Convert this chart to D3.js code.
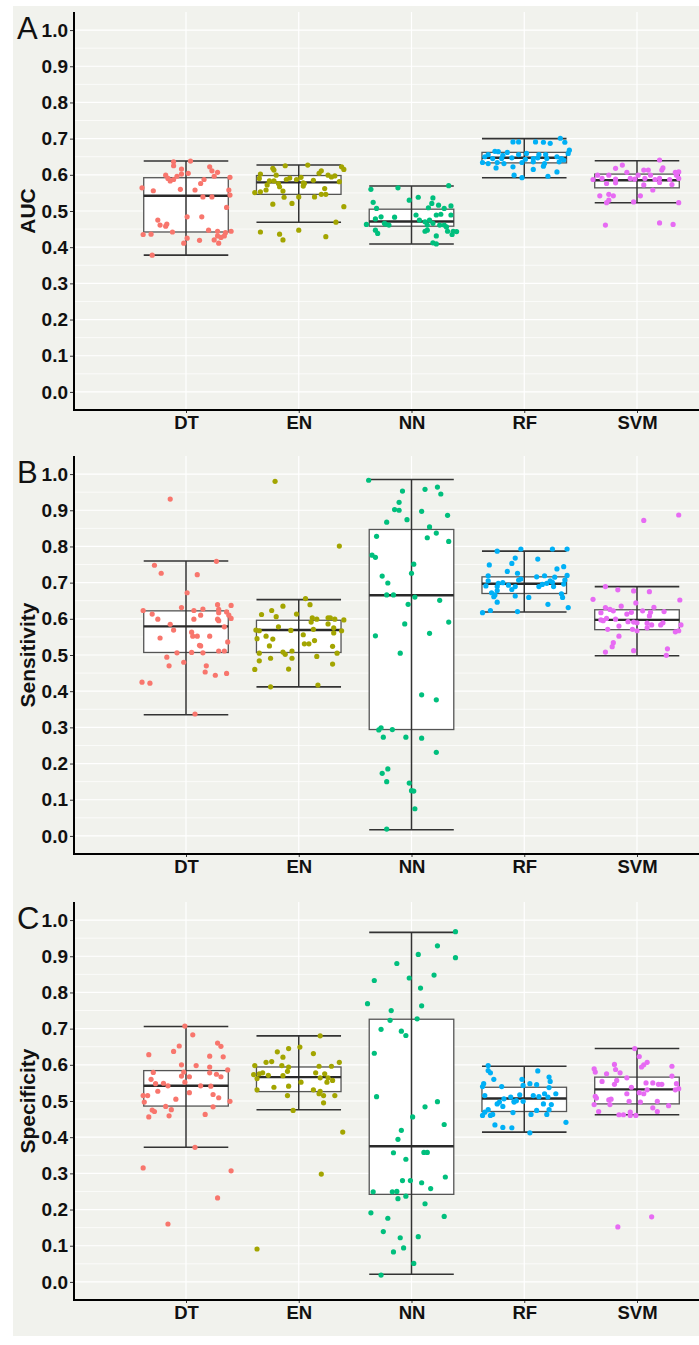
<!DOCTYPE html>
<html>
<head>
<meta charset="utf-8">
<script src="https://cdn.jsdelivr.net/npm/d3@7"></script>
<style>
  body { margin: 0; background: #fff; }
  svg { display: block; }
</style>
</head>
<body>
<div id="chart"></div>
<script>
// ---- data ----
const models = ["DT", "EN", "NN", "RF", "SVM"];
const modelColors = ["#F8766D", "#A3A500", "#00BF7D", "#00B0F6", "#E76BF3"];
const yTicks = [0, 0.1, 0.2, 0.3, 0.4, 0.5, 0.6, 0.7, 0.8, 0.9, 1.0];

// box stats per model: [lower whisker, Q1, median, Q3, upper whisker]
const aucStats = [
  [0.378, 0.442, 0.542, 0.592, 0.638],
  [0.469, 0.546, 0.579, 0.598, 0.627],
  [0.409, 0.458, 0.471, 0.505, 0.569],
  [0.592, 0.633, 0.647, 0.662, 0.700],
  [0.523, 0.564, 0.585, 0.602, 0.639]
];
const sensStats = [
  [0.335, 0.507, 0.579, 0.622, 0.760],
  [0.412, 0.507, 0.569, 0.596, 0.653],
  [0.017, 0.294, 0.665, 0.847, 0.985],
  [0.619, 0.670, 0.697, 0.716, 0.787],
  [0.498, 0.570, 0.597, 0.625, 0.689]
];
const specStats = [
  [0.372, 0.486, 0.542, 0.584, 0.706],
  [0.476, 0.526, 0.566, 0.594, 0.680],
  [0.021, 0.242, 0.375, 0.726, 0.966],
  [0.414, 0.471, 0.507, 0.538, 0.596],
  [0.462, 0.492, 0.532, 0.566, 0.645]
];

// jittered points per model: [jitter (category units), value]
const aucPoints = [
  [[-0.11,0.636],[-0.11,0.625],[0.04,0.638],[-0.04,0.616],[0.21,0.622],[0.23,0.611],[0.28,0.607],[-0.18,0.599],[-0.16,0.590],[-0.14,0.583],[-0.11,0.587],[-0.08,0.596],[-0.04,0.602],[0.02,0.604],[0.25,0.596],[0.16,0.587],[0.13,0.576],[0.39,0.593],[-0.39,0.564],[-0.29,0.556],[-0.05,0.560],[0.08,0.558],[0.38,0.558],[0.39,0.544],[0.15,0.539],[0.23,0.539],[0.36,0.510],[0.01,0.484],[0.14,0.484],[-0.25,0.475],[-0.23,0.461],[-0.18,0.458],[-0.17,0.464],[-0.38,0.435],[-0.31,0.436],[-0.12,0.442],[0.20,0.447],[0.28,0.444],[0.35,0.440],[0.40,0.444],[0.34,0.431],[0.31,0.427],[0.28,0.431],[0.01,0.425],[0.25,0.420],[0.12,0.419],[-0.02,0.411],[0.29,0.411],[-0.30,0.378]],
  [[-0.23,0.618],[-0.22,0.613],[-0.12,0.625],[0.08,0.627],[0.38,0.622],[0.40,0.615],[0.20,0.611],[0.18,0.604],[-0.34,0.602],[-0.20,0.599],[-0.35,0.590],[-0.26,0.583],[-0.22,0.583],[-0.11,0.587],[-0.08,0.591],[0.02,0.593],[0.13,0.585],[0.26,0.599],[0.32,0.597],[0.29,0.594],[0.36,0.581],[-0.28,0.572],[-0.18,0.576],[-0.17,0.567],[0.04,0.578],[0.04,0.569],[-0.29,0.558],[-0.39,0.551],[-0.34,0.553],[-0.14,0.555],[0.23,0.562],[-0.13,0.538],[0.00,0.539],[0.14,0.539],[0.20,0.546],[0.24,0.546],[-0.23,0.519],[-0.06,0.521],[0.40,0.512],[0.33,0.469],[-0.34,0.442],[-0.17,0.436],[0.00,0.447],[-0.14,0.420],[0.24,0.429],[-0.02,0.587],[0.05,0.576]],
  [[-0.36,0.560],[-0.12,0.564],[0.33,0.570],[-0.02,0.530],[0.06,0.538],[0.19,0.536],[-0.34,0.524],[-0.31,0.507],[0.18,0.521],[0.24,0.516],[0.35,0.514],[0.15,0.509],[0.29,0.507],[-0.27,0.484],[-0.15,0.483],[0.04,0.489],[-0.32,0.478],[0.07,0.475],[0.12,0.470],[0.16,0.475],[0.22,0.489],[0.26,0.491],[0.35,0.489],[-0.40,0.463],[-0.24,0.466],[-0.23,0.464],[-0.20,0.461],[0.14,0.461],[0.19,0.466],[0.25,0.461],[0.31,0.456],[-0.32,0.447],[-0.30,0.438],[0.12,0.444],[0.14,0.447],[0.32,0.444],[0.37,0.444],[0.40,0.443],[0.22,0.431],[0.19,0.412],[0.22,0.409],[0.36,0.435],[0.29,0.461]],
  [[-0.10,0.691],[-0.05,0.691],[0.10,0.691],[0.17,0.690],[0.23,0.687],[0.32,0.701],[0.36,0.690],[0.40,0.668],[0.39,0.659],[-0.26,0.665],[-0.23,0.664],[-0.15,0.662],[-0.32,0.656],[-0.19,0.654],[-0.05,0.656],[0.02,0.659],[0.13,0.656],[0.19,0.656],[0.29,0.650],[-0.35,0.650],[-0.28,0.645],[-0.20,0.645],[-0.11,0.647],[0.01,0.643],[0.08,0.645],[0.12,0.647],[0.20,0.645],[0.33,0.645],[-0.37,0.634],[-0.32,0.631],[-0.24,0.634],[-0.18,0.631],[-0.02,0.634],[0.08,0.636],[0.18,0.631],[0.31,0.636],[0.35,0.641],[-0.25,0.619],[-0.10,0.622],[0.08,0.615],[0.17,0.624],[-0.09,0.599],[-0.02,0.592],[0.21,0.596],[0.29,0.608]],
  [[0.20,0.641],[-0.13,0.627],[-0.19,0.618],[-0.09,0.607],[0.06,0.613],[0.10,0.613],[0.22,0.613],[0.23,0.619],[0.34,0.607],[0.37,0.608],[-0.35,0.599],[-0.25,0.599],[0.01,0.599],[0.12,0.599],[0.35,0.599],[-0.39,0.587],[-0.31,0.590],[-0.19,0.588],[-0.06,0.590],[-0.02,0.588],[0.07,0.590],[0.16,0.587],[0.20,0.590],[0.29,0.587],[0.37,0.590],[-0.27,0.576],[-0.19,0.578],[0.06,0.572],[0.20,0.579],[0.31,0.573],[-0.33,0.542],[-0.25,0.546],[-0.21,0.542],[0.14,0.558],[-0.25,0.530],[-0.27,0.523],[-0.03,0.525],[0.03,0.542],[0.37,0.523],[-0.28,0.461],[0.20,0.467],[0.32,0.463]]
];
const sensPoints = [
  [[-0.14,0.931],[-0.28,0.748],[-0.22,0.726],[0.27,0.759],[0.10,0.722],[0.01,0.672],[-0.38,0.623],[-0.30,0.613],[-0.25,0.599],[-0.04,0.631],[0.07,0.623],[0.15,0.627],[0.13,0.610],[0.07,0.599],[0.28,0.639],[0.29,0.626],[0.29,0.617],[0.40,0.637],[0.36,0.619],[0.38,0.610],[0.40,0.601],[0.28,0.599],[0.29,0.595],[-0.14,0.585],[-0.11,0.569],[-0.23,0.547],[0.05,0.563],[0.06,0.552],[0.10,0.552],[0.21,0.552],[0.34,0.578],[0.37,0.536],[0.13,0.525],[-0.08,0.506],[0.05,0.507],[0.15,0.506],[0.29,0.511],[0.34,0.511],[-0.17,0.494],[-0.02,0.480],[-0.15,0.470],[0.18,0.470],[0.17,0.453],[0.26,0.444],[0.36,0.449],[-0.39,0.425],[-0.32,0.422],[0.08,0.337],[0.12,0.527]],
  [[-0.21,0.980],[0.36,0.801],[0.06,0.656],[0.10,0.639],[-0.14,0.635],[-0.02,0.613],[-0.33,0.612],[-0.24,0.623],[-0.20,0.606],[0.12,0.603],[0.26,0.603],[0.28,0.603],[0.32,0.599],[0.40,0.597],[0.16,0.599],[0.11,0.591],[0.26,0.586],[-0.38,0.569],[-0.35,0.567],[-0.18,0.578],[-0.07,0.568],[0.13,0.571],[0.31,0.575],[0.38,0.567],[0.31,0.561],[-0.29,0.552],[-0.37,0.545],[-0.23,0.544],[0.04,0.556],[0.14,0.540],[0.05,0.531],[0.09,0.531],[-0.26,0.525],[0.30,0.524],[-0.14,0.508],[-0.12,0.502],[-0.06,0.511],[-0.35,0.505],[0.34,0.505],[-0.25,0.491],[-0.06,0.491],[0.16,0.496],[-0.35,0.484],[0.30,0.475],[-0.39,0.460],[-0.09,0.461],[-0.25,0.412],[0.17,0.417]],
  [[-0.38,0.983],[-0.08,0.953],[0.12,0.958],[0.23,0.964],[0.26,0.945],[-0.11,0.922],[-0.15,0.902],[-0.11,0.900],[0.09,0.897],[0.32,0.886],[-0.22,0.867],[-0.04,0.874],[0.16,0.854],[0.22,0.837],[-0.31,0.828],[0.14,0.824],[0.33,0.814],[-0.35,0.776],[-0.32,0.770],[0.02,0.751],[0.00,0.726],[-0.26,0.718],[-0.21,0.699],[-0.22,0.666],[-0.16,0.666],[0.03,0.660],[0.25,0.651],[-0.03,0.640],[0.33,0.591],[-0.06,0.586],[0.16,0.560],[-0.32,0.553],[-0.10,0.505],[0.09,0.390],[0.22,0.376],[-0.29,0.293],[-0.27,0.299],[-0.17,0.294],[-0.25,0.273],[-0.05,0.273],[0.09,0.270],[0.22,0.231],[-0.26,0.173],[-0.21,0.185],[-0.22,0.150],[-0.02,0.146],[0.00,0.125],[0.02,0.124],[0.03,0.075],[-0.22,0.019]],
  [[-0.03,0.793],[0.25,0.793],[0.38,0.793],[-0.24,0.787],[-0.08,0.768],[0.12,0.765],[-0.11,0.753],[-0.31,0.749],[0.35,0.744],[0.29,0.738],[-0.15,0.731],[-0.06,0.726],[-0.32,0.719],[0.11,0.716],[0.18,0.719],[0.27,0.715],[0.38,0.720],[-0.03,0.710],[-0.05,0.707],[0.23,0.705],[0.36,0.707],[-0.32,0.705],[-0.23,0.698],[-0.19,0.700],[-0.14,0.693],[0.16,0.695],[0.20,0.698],[0.25,0.701],[0.35,0.696],[-0.34,0.691],[-0.24,0.689],[-0.08,0.689],[0.13,0.689],[0.26,0.689],[-0.11,0.681],[-0.24,0.678],[-0.29,0.672],[-0.26,0.666],[-0.27,0.661],[-0.08,0.663],[0.04,0.659],[0.33,0.669],[0.34,0.659],[-0.24,0.646],[0.21,0.640],[0.39,0.631],[-0.37,0.617],[-0.30,0.623],[-0.06,0.620]],
  [[-0.28,0.689],[-0.17,0.680],[-0.03,0.677],[0.11,0.675],[-0.39,0.654],[0.38,0.652],[-0.01,0.644],[-0.14,0.635],[-0.28,0.631],[-0.24,0.626],[0.15,0.632],[-0.32,0.617],[-0.21,0.622],[-0.09,0.613],[-0.05,0.618],[0.05,0.622],[0.12,0.618],[0.24,0.620],[0.11,0.608],[-0.32,0.597],[-0.30,0.595],[-0.27,0.601],[-0.19,0.599],[-0.08,0.592],[-0.03,0.591],[0.00,0.589],[0.09,0.588],[0.13,0.583],[0.23,0.589],[0.21,0.583],[0.39,0.583],[-0.16,0.580],[0.09,0.575],[-0.26,0.571],[-0.04,0.571],[0.00,0.567],[0.34,0.564],[0.37,0.567],[-0.16,0.552],[-0.21,0.534],[-0.22,0.523],[-0.28,0.508],[-0.03,0.512],[0.27,0.517],[0.26,0.499],[0.06,0.872],[0.37,0.887]]
];
const specPoints = [
  [[-0.01,0.707],[0.06,0.683],[0.28,0.660],[0.31,0.651],[-0.06,0.652],[-0.11,0.637],[-0.33,0.628],[0.33,0.622],[0.21,0.624],[-0.04,0.600],[0.09,0.598],[0.21,0.594],[0.37,0.586],[-0.29,0.579],[-0.02,0.580],[0.21,0.578],[0.27,0.574],[-0.04,0.569],[0.03,0.567],[0.31,0.567],[-0.31,0.560],[-0.01,0.552],[-0.27,0.548],[-0.20,0.549],[-0.16,0.542],[0.13,0.542],[0.22,0.541],[-0.25,0.527],[0.03,0.523],[0.24,0.518],[-0.38,0.515],[-0.34,0.515],[-0.09,0.505],[0.29,0.509],[-0.37,0.497],[0.39,0.499],[-0.30,0.475],[-0.28,0.471],[-0.18,0.485],[-0.13,0.476],[0.24,0.484],[-0.33,0.456],[-0.15,0.459],[0.17,0.463],[0.08,0.372],[-0.38,0.315],[0.40,0.307],[0.28,0.232],[-0.16,0.160]],
  [[0.19,0.680],[0.01,0.649],[-0.09,0.645],[-0.19,0.636],[0.13,0.631],[-0.14,0.621],[-0.29,0.607],[-0.24,0.609],[0.36,0.607],[-0.39,0.598],[-0.15,0.598],[0.18,0.596],[0.29,0.596],[-0.09,0.594],[-0.32,0.578],[-0.35,0.575],[-0.27,0.571],[-0.14,0.570],[-0.10,0.582],[0.15,0.578],[0.23,0.575],[-0.40,0.573],[-0.37,0.562],[0.19,0.564],[0.26,0.564],[0.30,0.557],[0.25,0.552],[0.02,0.552],[-0.09,0.541],[-0.22,0.538],[-0.37,0.531],[0.13,0.531],[0.19,0.527],[0.18,0.520],[0.32,0.515],[0.22,0.515],[-0.10,0.515],[0.22,0.495],[-0.05,0.474],[0.39,0.414],[0.20,0.298],[-0.37,0.091]],
  [[0.39,0.968],[0.23,0.929],[0.06,0.905],[0.39,0.896],[-0.13,0.880],[0.20,0.848],[-0.02,0.840],[-0.33,0.833],[0.08,0.812],[-0.39,0.769],[0.09,0.763],[-0.18,0.750],[-0.19,0.723],[0.05,0.727],[-0.27,0.698],[-0.09,0.693],[-0.05,0.681],[-0.33,0.632],[-0.31,0.512],[0.23,0.498],[0.12,0.484],[0.01,0.456],[0.29,0.435],[-0.09,0.419],[-0.12,0.394],[-0.16,0.357],[0.11,0.358],[0.14,0.358],[-0.05,0.339],[0.30,0.290],[-0.08,0.280],[-0.01,0.280],[0.09,0.274],[0.17,0.258],[-0.34,0.249],[-0.17,0.249],[-0.13,0.250],[-0.05,0.237],[-0.12,0.230],[0.12,0.216],[-0.36,0.191],[-0.21,0.176],[0.29,0.181],[-0.25,0.139],[0.06,0.125],[-0.10,0.122],[-0.16,0.083],[-0.07,0.094],[0.02,0.051],[-0.27,0.019]],
  [[-0.32,0.598],[-0.32,0.584],[-0.30,0.578],[0.12,0.583],[0.22,0.566],[-0.27,0.560],[-0.02,0.560],[0.23,0.554],[-0.36,0.548],[-0.37,0.540],[-0.20,0.540],[-0.01,0.543],[0.05,0.548],[0.11,0.545],[0.22,0.537],[-0.35,0.515],[-0.04,0.517],[0.08,0.515],[0.13,0.512],[0.18,0.520],[0.21,0.511],[0.28,0.520],[-0.18,0.506],[-0.12,0.511],[-0.09,0.499],[-0.01,0.499],[-0.22,0.497],[-0.24,0.492],[-0.19,0.485],[0.17,0.492],[0.24,0.490],[-0.09,0.497],[-0.32,0.476],[-0.35,0.469],[-0.37,0.460],[-0.30,0.460],[-0.28,0.463],[-0.10,0.468],[0.06,0.463],[0.11,0.474],[0.20,0.463],[0.22,0.476],[-0.26,0.434],[-0.19,0.427],[-0.11,0.426],[0.37,0.441],[0.05,0.412],[-0.07,0.501]],
  [[-0.02,0.645],[0.02,0.623],[0.09,0.607],[0.06,0.600],[0.04,0.594],[-0.20,0.601],[-0.19,0.587],[-0.38,0.589],[-0.37,0.580],[-0.27,0.575],[-0.15,0.578],[0.31,0.596],[0.31,0.569],[-0.09,0.564],[-0.18,0.557],[-0.31,0.554],[0.08,0.550],[0.14,0.550],[0.19,0.546],[0.22,0.546],[0.35,0.548],[-0.20,0.546],[-0.05,0.538],[0.09,0.531],[0.37,0.534],[0.34,0.531],[0.02,0.523],[0.06,0.520],[-0.09,0.520],[-0.37,0.513],[-0.36,0.508],[-0.25,0.503],[-0.23,0.505],[-0.07,0.499],[0.03,0.497],[0.18,0.499],[-0.38,0.490],[-0.24,0.490],[0.28,0.487],[0.14,0.481],[-0.34,0.471],[0.18,0.471],[-0.16,0.462],[-0.12,0.462],[-0.06,0.469],[-0.06,0.460],[-0.01,0.460],[0.13,0.180],[-0.17,0.152]]
];

// ---- layout ----
const width = 699, height = 1345;
const plotLeft = 74, plotRight = 699, plotH = 398;
const font = "'Liberation Sans', Arial, Helvetica, sans-serif";

const svg = d3.select("#chart").append("svg")
    .attr("width", width)
    .attr("height", height);

// grey figure background
svg.append("rect")
    .attr("x", 13).attr("y", 6)
    .attr("width", width - 13).attr("height", 1330)
    .attr("fill", "#f1f2ed");

const x = d3.scalePoint()
    .domain(models)
    .range([plotLeft + 112, plotRight - 62]);
const step = x.step();
const boxHalf = step * 0.375;

const panels = [
    { label: "A", title: "AUC", top: 12, stats: aucStats, points: aucPoints },
    { label: "B", title: "Sensitivity", top: 456, stats: sensStats, points: sensPoints },
    { label: "C", title: "Specificity", top: 902, stats: specStats, points: specPoints }
];

panels.forEach(drawPanel);

function drawPanel(p) {
    const bottom = p.top + plotH;
    const y = d3.scaleLinear().domain([-0.05, 1.05]).range([bottom, p.top]);
    const g = svg.append("g");

    // grid
    const minor = d3.range(0.05, 1.0, 0.1);
    g.selectAll(".minor").data(minor).enter().append("line")
        .attr("x1", plotLeft).attr("x2", plotRight)
        .attr("y1", d => y(d)).attr("y2", d => y(d))
        .attr("stroke", "#fff").attr("stroke-width", 0.7);
    g.selectAll(".major").data(yTicks).enter().append("line")
        .attr("x1", plotLeft).attr("x2", plotRight)
        .attr("y1", d => y(d)).attr("y2", d => y(d))
        .attr("stroke", "#fff").attr("stroke-width", 1.2);
    g.selectAll(".vgrid").data(models).enter().append("line")
        .attr("x1", d => x(d)).attr("x2", d => x(d))
        .attr("y1", p.top).attr("y2", bottom)
        .attr("stroke", "#fff").attr("stroke-width", 1.2);

    // boxes
    const boxes = g.selectAll(".box")
        .data(models.map((m, i) => ({ model: m, s: p.stats[i] })))
        .enter().append("g");

    boxes.append("rect")
        .attr("x", d => x(d.model) - boxHalf)
        .attr("width", boxHalf * 2)
        .attr("y", d => y(d.s[3]))
        .attr("height", d => y(d.s[1]) - y(d.s[3]))
        .attr("fill", "#fff")
        .attr("stroke", "#555").attr("stroke-width", 1.3);

    // whisker (error bar) through the box
    boxes.append("line")
        .attr("x1", d => x(d.model)).attr("x2", d => x(d.model))
        .attr("y1", d => y(d.s[0])).attr("y2", d => y(d.s[4]))
        .attr("stroke", "#333").attr("stroke-width", 1.5);
    [0, 4].forEach(k => {
        boxes.append("line")
            .attr("x1", d => x(d.model) - boxHalf).attr("x2", d => x(d.model) + boxHalf)
            .attr("y1", d => y(d.s[k])).attr("y2", d => y(d.s[k]))
            .attr("stroke", "#333").attr("stroke-width", 1.6);
    });
    boxes.append("line")
        .attr("x1", d => x(d.model) - boxHalf).attr("x2", d => x(d.model) + boxHalf)
        .attr("y1", d => y(d.s[2])).attr("y2", d => y(d.s[2]))
        .attr("stroke", "#2a2a2a").attr("stroke-width", 2.4);

    // jittered points
    models.forEach((m, i) => {
        g.append("g").selectAll("circle")
            .data(p.points[i])
            .enter().append("circle")
            .attr("cx", d => x(m) + d[0] * step)
            .attr("cy", d => y(d[1]))
            .attr("r", 2.6)
            .attr("fill", modelColors[i]);
    });

    // axes
    const yAxis = g.append("g")
        .attr("transform", `translate(${plotLeft},0)`)
        .call(d3.axisLeft(y).tickValues(yTicks).tickFormat(d3.format(".1f"))
            .tickSize(4).tickSizeOuter(0).tickPadding(2));
    yAxis.select(".domain").remove();
    yAxis.selectAll(".tick line").attr("stroke", "#333").attr("stroke-width", 1);
    yAxis.selectAll("text")
        .attr("font-family", font).attr("font-size", 19)
        .attr("font-weight", "bold").attr("fill", "#111");

    const xAxis = g.append("g")
        .attr("transform", `translate(0,${bottom})`)
        .call(d3.axisBottom(x).tickSize(3).tickPadding(2.5));
    xAxis.select(".domain").remove();
    xAxis.selectAll(".tick line").attr("stroke", "#333");
    xAxis.selectAll("text")
        .attr("font-family", font).attr("font-size", 18.5)
        .attr("font-weight", "bold").attr("fill", "#111");

    // axis lines
    g.append("line")
        .attr("x1", plotLeft).attr("x2", plotLeft)
        .attr("y1", p.top).attr("y2", bottom + 1)
        .attr("stroke", "#000").attr("stroke-width", 2);
    g.append("line")
        .attr("x1", plotLeft - 1).attr("x2", plotRight)
        .attr("y1", bottom).attr("y2", bottom)
        .attr("stroke", "#000").attr("stroke-width", 2);

    // axis title
    g.append("text")
        .attr("transform", `translate(35,${(p.top + bottom) / 2}) rotate(-90)`)
        .attr("text-anchor", "middle")
        .attr("font-family", font).attr("font-size", 21)
        .attr("font-weight", "bold").attr("fill", "#111")
        .text(p.title);

    // panel letter
    g.append("text")
        .attr("x", 17).attr("y", p.top + 27)
        .attr("font-family", font).attr("font-size", 31)
        .attr("fill", "#111")
        .text(p.label);
}
</script>
</body>
</html>
